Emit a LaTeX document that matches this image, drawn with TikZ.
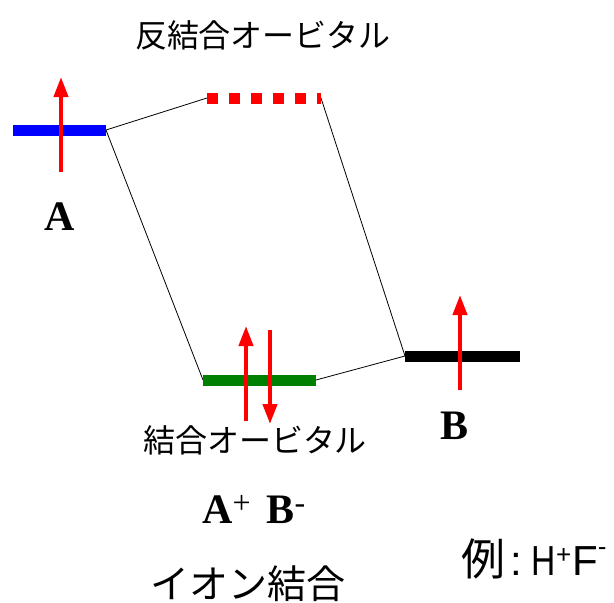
\documentclass[tikz,border=0pt]{standalone}
\usepackage{fontspec}
\setmainfont{Liberation Serif}
\newfontfamily\jpfont{Noto Sans CJK JP}
\newfontfamily\sansfont{Liberation Sans}
\usetikzlibrary{arrows.meta}
\definecolor{levelA}{RGB}{0,0,255}
\definecolor{levelB}{RGB}{0,0,0}
\definecolor{bonding}{RGB}{0,128,0}
\definecolor{antibond}{RGB}{255,0,0}
\definecolor{spin}{RGB}{255,0,0}
\newcommand{\chg}[2]{\raisebox{#1}{\fontsize{32}{32}\selectfont\mdseries #2}}
\tikzset{
  level/.style={line width=11pt},
  tie/.style={line width=0.8pt,black},
  electron/.style={spin,line width=4pt,-{Triangle[length=20pt,width=14pt]}},
  atomlab/.style={font=\fontsize{42}{44}\selectfont\bfseries,inner sep=0pt},
  jplab/.style={font=\jpfont\fontsize{32}{34}\selectfont,inner sep=0pt},
}
\begin{document}
\begin{tikzpicture}[x=1pt,y=-1pt]
\useasboundingbox (0,0) rectangle (614,603);

% level end points
\coordinate (A1) at (13,130);
\coordinate (A2) at (106,130);
\coordinate (S1) at (207,98);
\coordinate (S2) at (321,98);
\coordinate (G1) at (203,380);
\coordinate (G2) at (316,380);
\coordinate (B1) at (405,356);
\coordinate (B2) at (520,356);

% correlation lines
\draw[tie] (A2) -- (S1);
\draw[tie] (A2) -- (G1);
\draw[tie] (S2) -- (B1);
\draw[tie] (G2) -- (B1);

% levels
\draw[level,levelA] (A1) -- (A2);
\draw[level,antibond,dash pattern=on 11pt off 11pt] (S1) -- (S2);
\draw[level,bonding] (G1) -- (G2);
\draw[level,levelB] (B1) -- (B2);

% electrons
\coordinate (eA0) at (61,172);
\coordinate (eA1) at (61,77);
\coordinate (eU0) at (246,421);
\coordinate (eU1) at (246,326);
\coordinate (eD0) at (270,330);
\coordinate (eD1) at (270,424);
\coordinate (eB0) at (460,390);
\coordinate (eB1) at (460,295);
\draw[electron] (eA0) -- (eA1);
\draw[electron] (eU0) -- (eU1);
\draw[electron] (eD0) -- (eD1);
\draw[electron] (eB0) -- (eB1);

% labels
\node[jplab] (anti) at (263,35) {反結合オービタル};
\node[atomlab] (labA) at (60,217) {A};
\node[atomlab] (labB) at (455,426) {B};
\node[jplab] (bond) at (255,440) {結合オービタル};
\node[atomlab,anchor=base west] (ions) at (202,523) {A\chg{10pt}{+}\hspace{16pt}B\chg{10pt}{-}};
\node[font=\jpfont\fontsize{39}{41}\selectfont,inner sep=0pt] (ionic) at (248,584) {イオン結合};
\node[font=\sansfont\fontsize{42}{44}\selectfont,inner sep=0pt,anchor=base west] (ex) at (461,575)
  {{\jpfont\fontsize{44}{44}\selectfont 例}\hspace{5pt}:\hspace{10pt}\scalebox{0.8}[1]{H}\raisebox{12pt}{\fontsize{26}{26}\selectfont +}\hspace{1pt}F\raisebox{20pt}{\fontsize{26}{26}\selectfont -}};
\end{tikzpicture}
\end{document}
